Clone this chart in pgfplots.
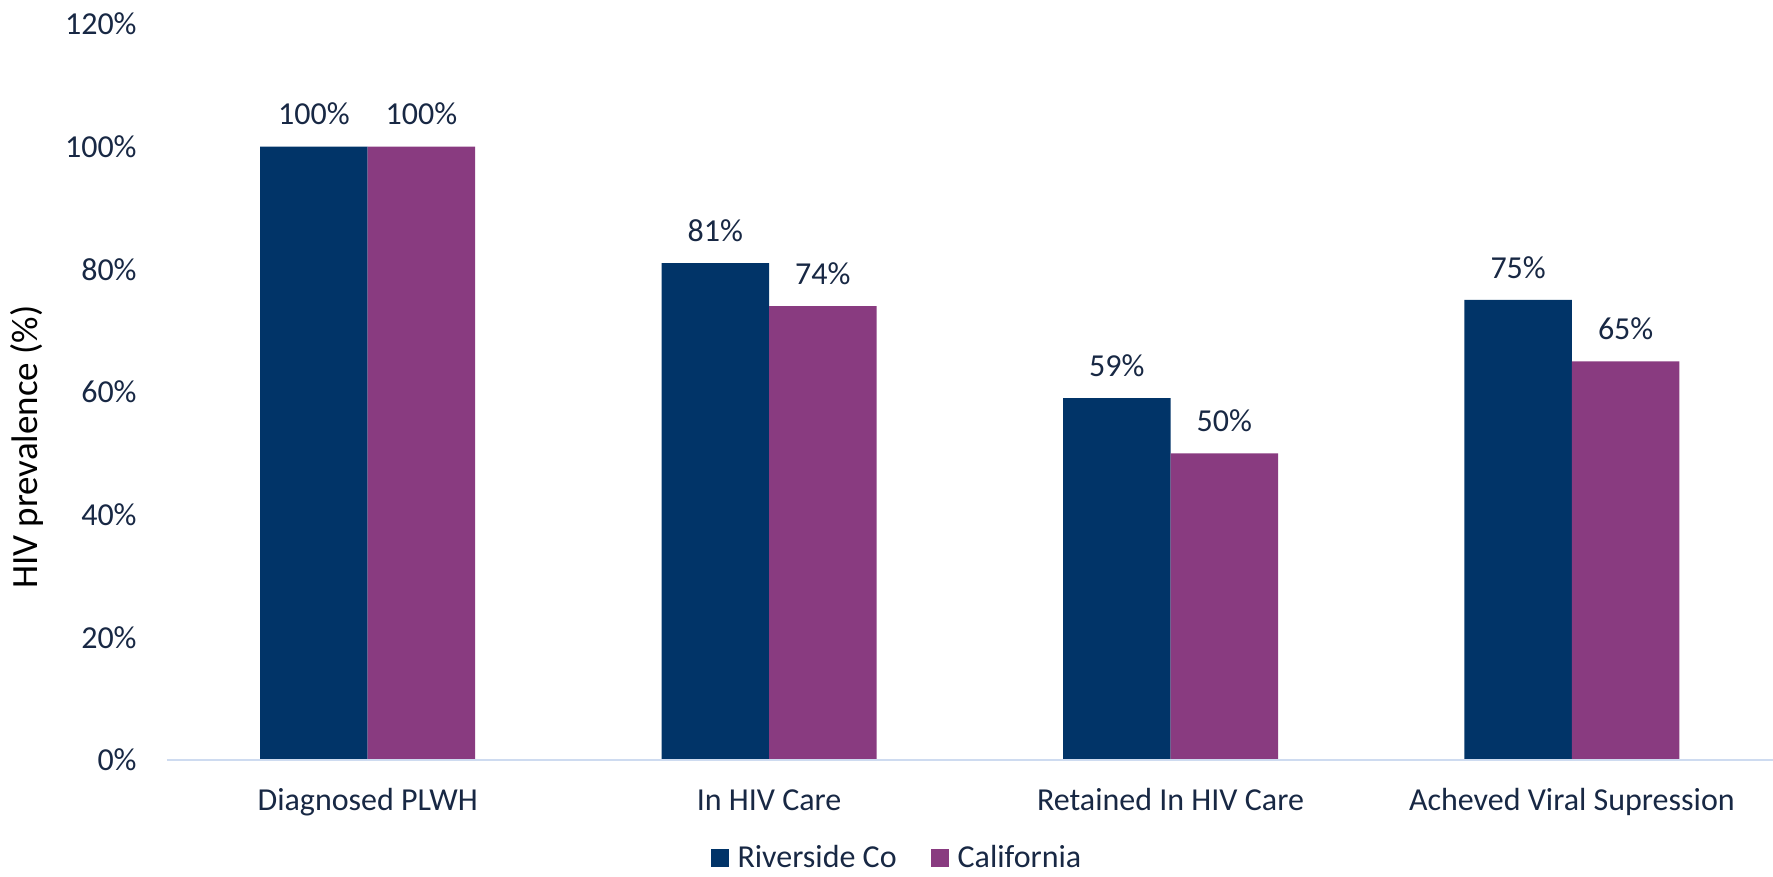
\documentclass[border=0pt]{standalone}
\usepackage{pgfplots}
\pgfplotsset{compat=1.18}
\usepackage{fontspec}
\setmainfont{Carlito}
\definecolor{rsblue}{RGB}{1,52,104}
\definecolor{capurple}{RGB}{137,59,128}
\definecolor{txt}{RGB}{24,40,68}
\definecolor{axl}{RGB}{206,219,240}
\begin{document}
\begin{tikzpicture}
\path[use as bounding box] (-83.5pt,-58.5pt) rectangle (803pt,380pt);
\begin{axis}[
  at={(0pt,0pt)}, anchor=south west,
  x=200.7pt, y=3.0667pt,
  xmin=-0.5, xmax=3.5, ymin=0, ymax=120,
  ybar=0pt, bar width=53.75pt,
  clip=false,
  axis line style={draw=none},
  major tick length=0pt,
  /pgf/number format/assume math mode=true,
  xtick={0,1,2,3},
  xticklabels={Diagnosed PLWH, In HIV Care, Retained In HIV Care, Acheved Viral Supression},
  ytick={0,20,40,60,80,100,120},
  yticklabel={\pgfmathprintnumber{\tick}\%},
  tick label style={text=txt, font=\fontsize{16}{19}\selectfont},
  yticklabel style={anchor=east, inner sep=0pt, xshift=-15pt},
  xticklabel style={anchor=base, inner sep=0pt, yshift=-25.5pt},
  nodes near coords={\pgfmathprintnumber{\pgfplotspointmeta}\%},
  nodes near coords style={text=txt, anchor=south, inner sep=0pt, yshift=10.5pt, font=\fontsize{16}{19}\selectfont},
  ylabel={HIV prevalence (\%)},
  ylabel style={at={(axis description cs:-0.087,0.425)}, anchor=center, inner sep=0pt, text=black, font=\fontsize{18.5}{22}\selectfont},
  legend style={at={(axis description cs:0.454,-0.1335)}, anchor=center, draw=none, fill=none,
    legend columns=2, font=\fontsize{16}{19}\selectfont, text=txt, inner sep=0pt,
    nodes={inner xsep=0pt, inner ysep=0pt}, column sep=4.5pt},
]
\addplot[fill=rsblue, draw=none, legend image code/.code={\fill[rsblue] (0pt,-4.5pt) rectangle (9pt,4.5pt);}]
  coordinates {(0,100) (1,81) (2,59) (3,75)};
\addplot[fill=capurple, draw=none, legend image code/.code={\fill[capurple] (0pt,-4.5pt) rectangle (9pt,4.5pt);}]
  coordinates {(0,100) (1,74) (2,50) (3,65)};
\legend{Riverside Co\hspace*{12.5pt}, California}
\draw[axl, line width=1.2pt] (axis cs:-0.5,0) -- (axis cs:3.5,0);
\end{axis}
\end{tikzpicture}
\end{document}
